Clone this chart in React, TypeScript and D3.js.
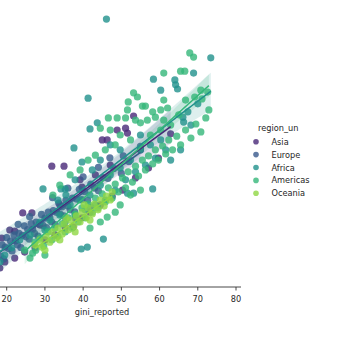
import React from "react";
import * as d3 from "d3";

const regions = ["Asia", "Europe", "Africa", "Americas", "Oceania"];
const regionColors = ["#482878", "#38598c", "#21918c", "#35b779", "#90d743"];
const xTicks = [20, 30, 40, 50, 60, 70, 80];

const asiaReported = [18.7,20.8,22.1,24.2,26.6,31.8,35.0,45.0,46.3,48.9,51.1,53.2,62.9,39.2,39.7,51.6,18.2,19.5,22.1,24.7,27.4,30.0,32.6,35.3,37.4,39.7,41.8,44.5,47.6,50.3,53.7,57.1,59.7,28.7,33.9,43.2,47.1,55.0];
const asiaDisp = [22.9,25.0,24.7,29.5,29.5,41.8,41.8,48.7,48.7,51.3,51.8,55.0,50.3,38.2,36.3,50.5,15.0,16.6,17.6,19.2,20.3,22.4,23.7,25.5,25.8,28.2,29.7,31.6,33.9,35.5,38.7,41.3,43.9,26.3,31.6,39.5,42.1,46.1];

const europeReported = [18.4,18.8,19.2,19.6,20.0,20.5,21.0,21.4,21.9,22.3,22.8,23.2,23.7,24.1,24.6,25.0,25.5,25.9,26.4,26.8,27.3,27.7,28.2,28.6,29.1,29.5,30.0,30.4,30.9,31.3,31.8,32.2,32.7,33.1,33.6,34.0,34.5,35.0,35.5,36.0,36.6,37.2,37.8,38.4,39.0,39.7,40.4,41.2,42.0,43.0,44.0,45.2,46.5,48.0,50.0,32.0,36.0,40.0,44.0,47.0,26.0,23.0,38.0,42.0,50.5,52.0,55.0];
const europeDisp = [18.1,21.1,17.4,20.5,23.0,20.1,22.1,19.5,23.7,22.1,21.1,24.1,20.4,23.6,26.1,23.2,25.1,22.6,26.7,25.2,24.1,27.1,23.4,26.6,29.1,26.2,28.1,25.6,29.7,28.2,27.1,30.1,26.4,29.6,32.1,29.2,31.1,28.7,32.8,31.3,30.3,33.4,29.8,33.1,35.7,33.0,35.1,32.8,37.1,36.0,35.3,38.8,38.6,41.2,39.9,33.5,36.0,39.0,41.5,44.0,28.5,26.5,28.0,31.0,44.5,43.0,47.0];

const africaReported = [46.1,73.4,68.9,58.4,64.0,64.2,64.7,41.3,68.2,37.6,39.7,41.8,43.7,29.5,34.2,35.3,58.2,51.6,53.2,45.3,39.5,41.1,70.0,67.4,66.1,66.3,60.3,31.3,33.9,36.6,39.2,41.8,44.5,47.1,49.7,52.4,55.0,57.6,60.3,30.0,35.3,37.9,40.5,43.2,45.8,48.4,51.1,53.7,56.3,58.9,61.6,62.9,65.5,55.0,49.7,44.5,47.1,42.4,37.9,35.5,33.4,28.7,26.1,23.4,21.3,19.5,18.2];
const africaDisp = [80.5,70.3,66.3,64.7,64.5,63.2,62.1,59.7,52.6,46.6,42.9,51.6,53.2,35.8,35.8,35.8,35.8,34.7,34.7,22.6,20.0,20.5,58.2,56.1,54.7,53.4,61.8,27.6,28.9,31.6,32.9,34.2,36.8,39.5,41.3,43.4,46.1,47.4,48.7,25.0,27.1,28.9,30.3,31.6,32.9,35.5,38.2,40.3,42.1,43.9,46.1,43.4,46.1,50.0,46.1,43.4,47.4,40.8,38.2,34.2,32.9,27.1,23.7,22.4,20.3,18.4,16.6];

const americasReported = [27.4,28.7,29.7,30.8,31.8,32.6,33.4,34.5,35.3,36.1,37.1,37.9,38.7,39.7,40.5,41.3,42.4,43.2,43.9,45.0,45.8,46.6,47.6,48.4,49.2,50.3,51.1,51.8,52.9,53.7,54.5,55.5,56.3,57.1,58.2,58.9,59.7,60.8,61.6,62.4,63.4,64.5,65.5,66.8,68.2,69.5,70.8,72.1,72.9,
  67.9,68.9,61.1,65.5,66.6,53.2,54.2,51.8,61.1,71.1,69.2,55.5,56.3,58.2,60.3,62.1,58.9,61.1,56.8,51.6,53.7,55.0,46.6,48.9,51.1,44.5,47.1,49.7,52.4,48.4,45.8,43.2,41.3,39.2,36.6,33.9,32.1,57.6,60.3,62.9,65.0,66.8,70.8,72.6,
  48.4,46.3,26.8,27.6,49.7,52.4,55.0,44.5,41.8,30.0,24.7,26.1];
const americasDisp = [21.8,22.9,20.8,24.5,22.4,25.5,23.4,26.6,24.5,28.2,25.5,29.2,27.1,30.8,28.2,31.8,29.7,33.4,30.8,34.5,32.4,36.1,33.4,37.1,35.0,38.7,36.1,40.3,37.6,41.8,39.2,43.4,40.8,44.5,42.4,46.1,43.4,47.1,45.0,48.7,46.1,49.7,47.4,51.3,49.2,52.9,50.8,54.5,56.6,
  71.6,70.5,66.3,66.8,66.8,61.1,60.0,58.7,59.2,59.5,60.0,57.6,57.6,56.1,56.6,57.1,54.7,53.9,53.9,56.6,53.9,53.2,54.5,54.5,54.5,51.8,51.3,50.0,48.7,47.4,46.1,44.7,43.4,40.8,39.5,36.8,34.2,50.0,51.3,52.6,55.3,59.2,61.8,61.3,
  29.7,28.4,18.9,19.7,31.6,34.2,35.5,27.1,25.5,18.4,19.7,17.6];

const oceaniaReported = [27.4,28.7,29.2,30.3,31.3,31.8,32.9,33.4,34.5,35.0,36.1,36.6,37.6,38.2,39.2,39.7,40.8,41.3,42.4,42.9,43.9,44.5,45.5,46.1,47.1,47.6,30.0,33.9,37.9,41.8,35.5,40.3];
const oceaniaDisp = [21.1,22.4,20.5,23.4,21.8,24.5,22.9,25.5,23.9,26.6,25.0,27.6,26.1,28.7,27.1,29.7,28.2,30.8,29.2,31.8,30.3,32.9,31.3,33.9,32.9,35.0,19.7,22.4,24.5,27.6,28.2,31.6];

const seriesX = [asiaReported, europeReported, africaReported, americasReported, oceaniaReported];
const seriesY = [asiaDisp, europeDisp, africaDisp, americasDisp, oceaniaDisp];

function fit(xs: number[], ys: number[]) {
  const n = Math.min(xs.length, ys.length);
  const X = xs.slice(0, n), Y = ys.slice(0, n);
  const xbar = d3.mean(X)!, ybar = d3.mean(Y)!;
  let sxx = 0, sxy = 0;
  for (let i = 0; i < n; i++) { sxx += (X[i] - xbar) ** 2; sxy += (X[i] - xbar) * (Y[i] - ybar); }
  const b = sxy / sxx, a = ybar - b * xbar;
  let sse = 0;
  for (let i = 0; i < n; i++) sse += (Y[i] - a - b * X[i]) ** 2;
  const s = Math.sqrt(sse / (n - 2));
  const [lo, hi] = d3.extent(X) as [number, number];
  const grid = d3.range(0, 101).map(k => lo + (hi - lo) * k / 100);
  return grid.map(x => {
    const yh = a + b * x;
    const se = s * Math.sqrt(1 / n + (x - xbar) ** 2 / sxx);
    return { x, y: yh, lo: yh - 1.98 * se, hi: yh + 1.98 * se };
  });
}

export default function App() {
  const W = 350, H = 350;
  const x = d3.scaleLinear().domain([20, 80]).range([6.7, 236]);
  const y = d3.scaleLinear().domain([10, 82]).range([287, 13.4]);
  const font = "DejaVu Sans, sans-serif";
  const line = d3.line<any>().x(d => x(d.x)).y(d => y(d.y));
  const area = d3.area<any>().x(d => x(d.x)).y0(d => y(d.lo)).y1(d => y(d.hi));
  const fits = regions.map((_, i) => fit(seriesX[i], seriesY[i]));

  return (
    <svg width={W} height={H} style={{ position: "absolute", left: 0, top: 0, background: "#fff" }}>
      <rect width={W} height={H} fill="#fff" />
      {regions.map((r, i) => (
        <g key={r}>
          {seriesX[i].map((v, j) => (
            <circle key={j} cx={x(v)} cy={y(seriesY[i][j])} r={3.6} fill={regionColors[i]} fillOpacity={0.8} />
          ))}
          <path d={area(fits[i]) || ""} fill={regionColors[i]} fillOpacity={0.15} />
        </g>
      ))}
      {regions.map((r, i) => (
        <path key={r} d={line(fits[i]) || ""} fill="none" stroke={regionColors[i]} strokeWidth={1.5} />
      ))}
      <line x1={-50} x2={241} y1={287} y2={287} stroke="#333" strokeWidth={0.9} />
      {xTicks.map(t => (
        <g key={t}>
          <line x1={x(t)} x2={x(t)} y1={287} y2={290.5} stroke="#333" strokeWidth={0.9} />
          <text x={x(t)} y={301.5} fontSize={8.2} fontFamily={font} textAnchor="middle" fill="#262626">{t}</text>
        </g>
      ))}
      <text x={102} y={315} fontSize={8.2} fontFamily={font} textAnchor="middle" fill="#262626">gini_reported</text>
      <text x={258} y={131} fontSize={8.2} fontFamily={font} fill="#262626">region_un</text>
      {regions.map((r, i) => (
        <g key={r}>
          <circle cx={256} cy={141.7 + 12.9 * i} r={2.8} fill={regionColors[i]} fillOpacity={0.8} />
          <text x={271.5} y={141.7 + 12.9 * i + 3} fontSize={8.2} fontFamily={font} fill="#262626">{r}</text>
        </g>
      ))}
    </svg>
  );
}
